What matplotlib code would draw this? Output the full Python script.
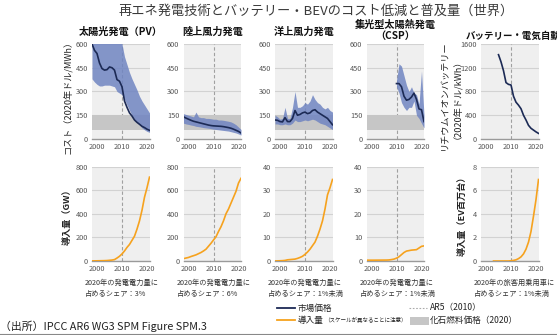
import matplotlib
matplotlib.use("Agg")
import matplotlib.pyplot as plt
from matplotlib.lines import Line2D
from matplotlib.patches import Rectangle

plt.rcParams['font.family'] = ['Noto Sans CJK JP', 'DejaVu Sans']

# ---------------- data ----------------
years_a = list(range(1998, 2022))

pv_cost = [600, 560, 540, 480, 445, 435, 438, 455, 450, 435, 375, 365, 330, 240, 200, 165, 145, 120, 105, 93, 80, 72, 62, 55]
pv_hi = [700, 700, 700, 700, 700, 700, 700, 700, 700, 700, 700, 700, 600, 520, 470, 420, 380, 345, 310, 270, 240, 215, 190, 165]
pv_lo = [380, 360, 345, 335, 335, 340, 340, 340, 335, 330, 300, 290, 280, 250, 215, 180, 150, 125, 105, 90, 70, 58, 48, 42]

on_cost = [140, 132, 125, 118, 112, 108, 104, 100, 96, 92, 88, 85, 83, 82, 81, 80, 78, 75, 72, 68, 62, 55, 48, 38]
on_hi = [160, 155, 150, 145, 140, 170, 140, 135, 135, 130, 130, 128, 125, 125, 120, 120, 118, 115, 112, 108, 100, 90, 75, 60]
on_lo = [100, 95, 92, 88, 85, 80, 78, 75, 72, 70, 68, 65, 62, 60, 58, 56, 54, 52, 50, 46, 42, 38, 32, 25]

off_cost = [120, 118, 110, 108, 135, 110, 110, 130, 180, 150, 155, 165, 170, 160, 165, 180, 185, 170, 160, 150, 140, 130, 110, 90]
off_hi = [150, 140, 125, 130, 200, 130, 130, 200, 300, 200, 200, 210, 230, 220, 240, 280, 250, 230, 220, 200, 190, 200, 180, 170]
off_lo = [95, 95, 90, 90, 95, 90, 90, 100, 120, 110, 110, 115, 120, 115, 120, 125, 120, 110, 100, 95, 90, 80, 70, 60]

years_csp = list(range(2010, 2022))
csp_cost = [350, 350, 330, 270, 245, 250, 265, 290, 250, 190, 185, 110]
csp_hi = [370, 475, 460, 400, 340, 300, 330, 290, 280, 220, 430, 150]
csp_lo = [330, 290, 230, 200, 180, 200, 200, 240, 150, 130, 100, 70]

years_bat = list(range(2005, 2022))
bat_cost = [1420, 1300, 1150, 950, 920, 910, 720, 620, 570, 510, 400, 320, 230, 180, 150, 120, 95]

pv_dep = [1, 1, 1.5, 2, 2.5, 3, 4, 6, 8, 12, 25, 40, 60, 85, 115, 140, 175, 210, 270, 340, 430, 540, 620, 710]
on_dep = [20, 25, 30, 38, 45, 52, 62, 72, 85, 100, 125, 150, 178, 205, 250, 290, 340, 400, 440, 490, 540, 590, 660, 700]
off_dep = [0.03, 0.05, 0.1, 0.15, 0.25, 0.5, 0.6, 0.7, 0.8, 1.1, 1.5, 2.0, 2.8, 3.8, 5.0, 6.5, 8.0, 10.5, 13.5, 17, 22, 28, 31, 34.5]
csp_dep = [0.35, 0.35, 0.35, 0.35, 0.36, 0.37, 0.38, 0.39, 0.4, 0.45, 0.6, 0.8, 1.2, 1.8, 2.7, 3.6, 4.2, 4.4, 4.6, 4.7, 4.8, 5.5, 6.2, 6.4]
years_ev = list(range(2003, 2022))
ev_dep = [0, 0, 0, 0, 0, 0, 0, 0.02, 0.05, 0.1, 0.2, 0.35, 0.6, 1.0, 1.6, 2.5, 3.8, 5.2, 6.9]

fossil_band = (55, 150)

titles = ['太陽光発電（PV）', '陸上風力発電', '洋上風力発電', '集光型太陽熱発電\n（CSP）', 'バッテリー・電気自動車']
notes = ['2020年の発電電力量に\n占めるシェア：3%',
         '2020年の発電電力量に\n占めるシェア：6%',
         '2020年の発電電力量に\n占めるシェア：1%未満',
         '2020年の発電電力量に\n占めるシェア：1%未満',
         '2020年の旅客用乗用車に\n占めるシェア：1%未満']
cost_ticks = [0, 150, 300, 450, 600]
bat_ticks = [0, 400, 800, 1200, 1600]
dep_ticks = [[0, 200, 400, 600, 800], [0, 200, 400, 600, 800], [0, 10, 20, 30, 40], [0, 10, 20, 30, 40], [0, 2, 4, 6, 8]]
x_ticks = [2000, 2010, 2020]

# ---------------- style ----------------
W, H = 557, 335
NAVY = '#1c2a55'
BAND = '#7085c2'
ORANGE = '#f6a21e'
GRAYBAND = '#c6c6c6'
BG = '#efefef'
GRID = '#d2d2d2'

fig = plt.figure(figsize=(W / 100, H / 100), dpi=100)

def px_axes(left, top, width, height):
    return fig.add_axes([left / W, 1 - (top + height) / H, width / W, height / H])

def style(ax, ylim, yticks):
    ax.set_facecolor(BG)
    for s in ['top', 'right', 'left']:
        ax.spines[s].set_visible(False)
    ax.spines['bottom'].set_color('#9a9a9a')
    ax.spines['bottom'].set_linewidth(1.0)
    ax.set_xlim(1998, 2021)
    ax.set_ylim(*ylim)
    ax.set_yticks(yticks)
    ax.set_xticks(x_ticks)
    ax.tick_params(length=0, labelsize=5.3, colors='#555555', pad=3)
    for y in yticks[1:]:
        ax.axhline(y, color=GRID, lw=0.8, zorder=0.5)
    ax.axvline(2010, color='#a0a0a0', lw=0.8, ls=(0, (3, 2)), zorder=1)

lefts = [92, 183.5, 275, 366.5, 481]
aw = 57.5
top_y, top_h = 44, 95
bot_y, bot_h = 166.5, 94.5

cost_data = [(years_a, pv_cost, pv_hi, pv_lo), (years_a, on_cost, on_hi, on_lo),
             (years_a, off_cost, off_hi, off_lo), (years_csp, csp_cost, csp_hi, csp_lo)]
dep_data = [(years_a, pv_dep), (years_a, on_dep), (years_a, off_dep), (years_a, csp_dep), (years_ev, ev_dep)]

for i in range(5):
    ax = px_axes(lefts[i], top_y, aw, top_h)
    if i < 4:
        style(ax, (0, 600), cost_ticks)
        ax.axhspan(*fossil_band, color=GRAYBAND, zorder=1.5, lw=0)
        yr, c, hi, lo = cost_data[i]
        ax.fill_between(yr, lo, hi, color=BAND, alpha=0.85, lw=0, zorder=2)
        ax.plot(yr, c, color=NAVY, lw=1.2, zorder=3, clip_on=True)
    else:
        style(ax, (0, 1600), bat_ticks)
        ax.plot(years_bat, bat_cost, color=NAVY, lw=1.2, zorder=3)

    bx = px_axes(lefts[i], bot_y, aw, bot_h)
    style(bx, (0, dep_ticks[i][-1]), dep_ticks[i])
    yr, d = dep_data[i]
    bx.plot(yr, d, color=ORANGE, lw=1.2, zorder=3)

    fig.text((lefts[i] - 7) / W, 1 - 279 / H, notes[i], fontsize=5.2, color='#333333',
             ha='left', va='top', linespacing=1.45)

# panel titles
for i in range(4):
    cx = (lefts[i] + aw / 2) / W
    if i == 3:
        fig.text(cx, 1 - 30 / H, titles[i], fontsize=7.3, fontweight='bold', ha='center',
                 va='center', color='#111111', linespacing=1.15)
    else:
        fig.text(cx, 1 - 32 / H, titles[i], fontsize=7.3, fontweight='bold', ha='center',
                 va='center', color='#111111')
fig.text(466 / W, 1 - 36 / H, titles[4], fontsize=6.8, fontweight='bold', ha='left',
         va='center', color='#111111')

# main title
fig.text(316 / W, 1 - 11 / H, '再エネ発電技術とバッテリー・BEVのコスト低減と普及量（世界）',
         fontsize=9.5, ha='center', va='center', color='#3a3a3a')

# y labels
fig.text(68 / W, 1 - 95 / H, 'コスト（2020年ドル/MWh）', rotation=90, fontsize=6.6,
         ha='center', va='center', color='#222222')
fig.text(449 / W, 1 - 95 / H, 'リチウムイオンバッテリー\n（2020年ドル/kWh）', rotation=90,
         fontsize=6.6, ha='center', va='center', color='#222222', linespacing=1.0)
fig.text(67 / W, 1 - 215 / H, '導入量（GW）', rotation=90, fontsize=6.6, fontweight='bold',
         ha='center', va='center', color='#222222')
fig.text(462 / W, 1 - 214 / H, '導入量（EV百万台）', rotation=90, fontsize=6.6, fontweight='bold',
         ha='center', va='center', color='#222222')

# source
fig.text(0 / W, 1 - 326 / H, '（出所）IPCC AR6 WG3 SPM Figure SPM.3', fontsize=7.8,
         ha='left', va='center', color='#222222')

# legend
fig.add_artist(Line2D([277 / W, 295 / W], [1 - 308 / H, 1 - 308 / H], color=NAVY, lw=1.3))
fig.text(298 / W, 1 - 308 / H, '市場価格', fontsize=6.2, ha='left', va='center', color='#222222')
fig.add_artist(Line2D([277 / W, 295 / W], [1 - 320 / H, 1 - 320 / H], color=ORANGE, lw=1.3))
fig.text(298 / W, 1 - 320 / H, '導入量', fontsize=6.2, ha='left', va='center', color='#222222')
fig.text(324 / W, 1 - 320.5 / H, '（スケールが異なることに注意）', fontsize=4.0, ha='left',
         va='center', color='#222222')
fig.add_artist(Line2D([409 / W, 427 / W], [1 - 308 / H, 1 - 308 / H], color='#aaaaaa', lw=0.8,
                      ls=(0, (1.5, 1.5))))
fig.text(430 / W, 1 - 308 / H, 'AR5（2010）', fontsize=6.2, ha='left', va='center', color='#222222')
fig.add_artist(Rectangle((410 / W, 1 - 325 / H), 19 / W, 8 / H, color=GRAYBAND, lw=0,
                         transform=fig.transFigure))
fig.text(430 / W, 1 - 320.5 / H, '化石燃料価格（2020）', fontsize=6.2, ha='left', va='center',
         color='#222222')

# bottom border line
fig.add_artist(Line2D([0, 1], [1 - 334 / H, 1 - 334 / H], color='#888888', lw=0.8))

fig.savefig('out.png', dpi=100)
